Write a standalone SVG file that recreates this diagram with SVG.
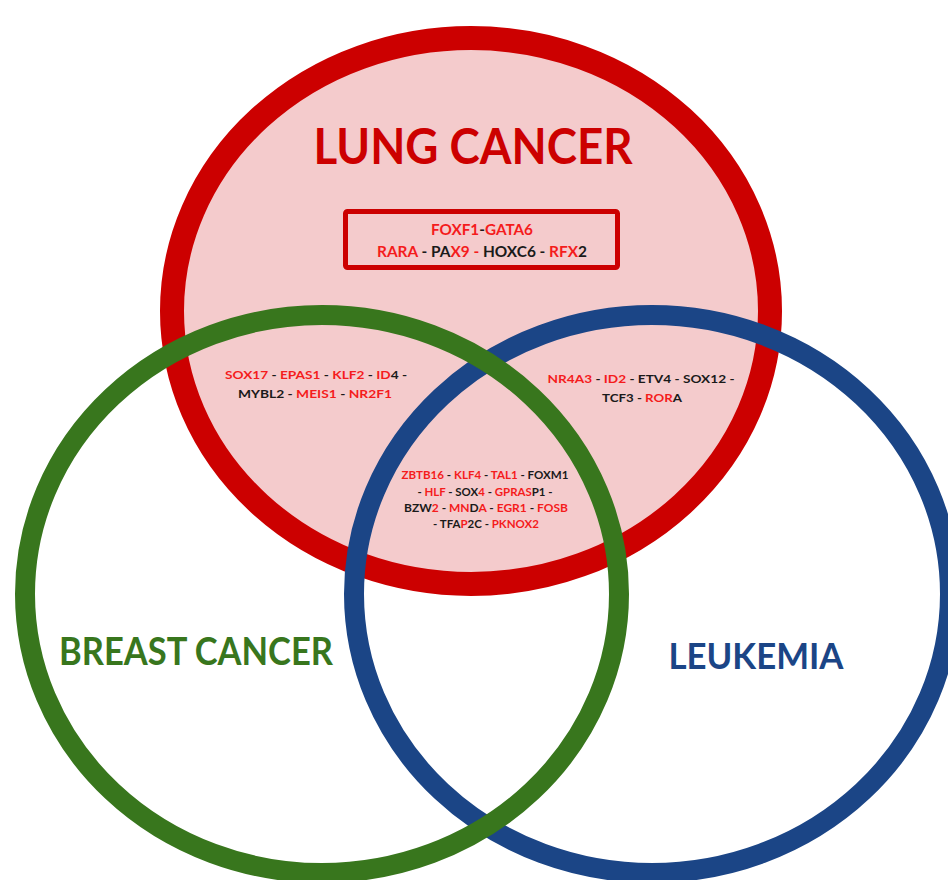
<svg xmlns="http://www.w3.org/2000/svg" width="948" height="880" viewBox="0 0 948 880">
<style>
.t{font-family:Lato,"Open Sans","Liberation Sans",sans-serif;font-weight:bold;text-anchor:middle}
.r{fill:#f41c1c}
.k{fill:#1a1a1a}
.ring{fill:none;stroke-width:20}
</style>
<rect width="948" height="880" fill="#ffffff"/>
<g id="lung">
<ellipse cx="471" cy="311" rx="299" ry="273" fill="#f4cbcc" stroke="#cc0000" stroke-width="24"/>
<text class="t" x="473" y="164" font-size="50" fill="#cc0000" textLength="319" lengthAdjust="spacingAndGlyphs">LUNG CANCER</text>
<rect x="345.5" y="211.5" width="272" height="56" rx="2" fill="none" stroke="#cc0000" stroke-width="5"/>
<text class="t k" x="482" y="235" font-size="15.5" textLength="102" lengthAdjust="spacingAndGlyphs"><tspan class="r">FOXF1</tspan>-<tspan class="r">GATA6</tspan></text>
<text class="t k" x="482" y="257" font-size="15.5" textLength="210" lengthAdjust="spacingAndGlyphs"><tspan class="r">RARA</tspan> - PA<tspan class="r">X9 - </tspan>HOXC6 - <tspan class="r">RFX</tspan>2</text>
</g>
<g id="leukemia">
<ellipse class="ring" cx="652" cy="594" rx="298" ry="279" stroke="#1b4586"/>
<text class="t" x="756" y="669" font-size="36" fill="#1b4586" textLength="175" lengthAdjust="spacingAndGlyphs">LEUKEMIA</text>
</g>
<g id="breast">
<ellipse class="ring" cx="322" cy="594" rx="297" ry="279" stroke="#38761d"/>
<text class="t" x="196" y="665" font-size="38" fill="#38761d" textLength="274" lengthAdjust="spacingAndGlyphs">BREAST CANCER</text>
</g>
<g id="lung-breast">
<text class="t k" x="316" y="379" font-size="12" textLength="182" lengthAdjust="spacingAndGlyphs"><tspan class="r">SOX17</tspan> - <tspan class="r">EPAS1</tspan> - <tspan class="r">KLF2</tspan> - <tspan class="r">ID</tspan>4 -</text>
<text class="t k" x="315" y="398" font-size="12" textLength="154" lengthAdjust="spacingAndGlyphs">MYBL2 - <tspan class="r">MEIS1</tspan> - <tspan class="r">NR2F1</tspan></text>
</g>
<g id="lung-leukemia">
<text class="t k" x="641" y="383" font-size="12" textLength="187" lengthAdjust="spacingAndGlyphs"><tspan class="r">NR4A3</tspan> - <tspan class="r">ID2</tspan> - ETV4 - SOX12 -</text>
<text class="t k" x="642" y="402" font-size="12" textLength="80" lengthAdjust="spacingAndGlyphs">TCF3 - <tspan class="r">ROR</tspan>A</text>
</g>
<g id="all-three">
<text class="t k" x="485" y="479" font-size="11" textLength="167" lengthAdjust="spacingAndGlyphs"><tspan class="r">ZBTB16</tspan> - <tspan class="r">KLF4</tspan> - <tspan class="r">TAL1</tspan> - FOXM1</text>
<text class="t k" x="485" y="496" font-size="11" textLength="135" lengthAdjust="spacingAndGlyphs">- <tspan class="r">HLF</tspan> - SOX<tspan class="r">4</tspan> - <tspan class="r">GPRAS</tspan>P1 -</text>
<text class="t k" x="486" y="512" font-size="11" textLength="164" lengthAdjust="spacingAndGlyphs">BZW<tspan class="r">2</tspan> - <tspan class="r">MN</tspan>D<tspan class="r">A</tspan> - <tspan class="r">EGR1</tspan> -  <tspan class="r">FOSB</tspan></text>
<text class="t k" x="486" y="528" font-size="11" textLength="106" lengthAdjust="spacingAndGlyphs">- TFA<tspan class="r">P</tspan>2C - <tspan class="r">PKNOX2</tspan></text>
</g>
</svg>
